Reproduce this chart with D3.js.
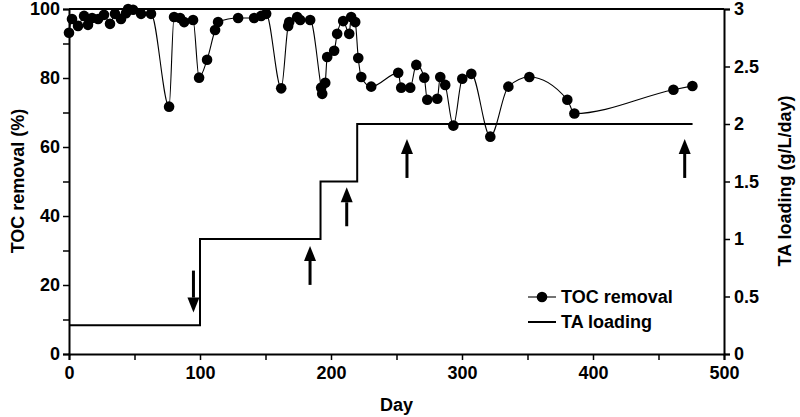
<!DOCTYPE html>
<html><head><meta charset="utf-8">
<script src="https://cdn.jsdelivr.net/npm/d3@7"></script>
<style>body{margin:0;background:#fff}svg{display:block}text{font-family:"Liberation Sans",Arial,sans-serif;font-weight:bold;fill:#000}</style>
</head><body><svg id="c" width="800" height="417"></svg>
<script>
const tocDays = [0,2.3,6.9,11.5,14.5,17.6,22.2,26.7,31.3,35.1,39.7,43.5,45.1,48.9,55,62.6,76.4,80.2,84.8,87.9,94.7,99.3,105.4,111.5,113.8,129.1,141.3,146.7,150.5,162,167.3,168.1,174.2,176.5,184.1,192.5,193.3,195.6,197.1,202.4,204.7,209.3,213.9,215.4,218.5,220.8,223.1,230.7,251.3,253.6,260.5,265.1,271.2,273.5,281.1,283.4,287.2,293.4,300.2,307.1,321.6,335.4,351.4,380.4,385.8,461.4,475.9];
const tocVals = [93.1,97.1,95.1,98.0,95.4,97.4,97.1,98.3,95.7,98.6,97.1,98.8,100,99.8,98.6,98.6,71.7,97.7,97.4,96.2,96.8,80.1,85.3,93.9,96.2,97.4,97.4,98.0,98.6,77.0,95.1,96.2,97.7,96.8,96.8,77.2,75.4,78.6,86.1,87.9,92.8,96.5,92.8,97.7,96.2,85.8,80.3,77.5,81.5,77.2,77.2,83.8,80.1,73.7,74.0,80.3,78.0,66.2,79.8,81.2,63.0,77.5,80.3,73.7,69.7,76.6,77.7];
const taDays = [0,100,192,220,476];
const taVals = [0.25,1,1.5,2,2];
const upArrowDays = [184,212,258,470];
const upArrowTips = [0.94,1.45,1.87,1.87];
const downArrowDays = [95];
const downArrowTips = [0.36];
const xTicks = [0,100,200,300,400,500];
const yLeftTicks = [0,20,40,60,80,100];
const yRightTicks = [0,0.5,1,1.5,2,2.5,3];

const svg = d3.select("#c");
const L=69,R=724,T=9,B=354;
const x = d3.scaleLinear().domain([0,500]).range([L,R]);
const yl = d3.scaleLinear().domain([0,100]).range([B,T]);
const yr = d3.scaleLinear().domain([0,3]).range([B,T]);

svg.append("line").attr("x1",L).attr("x2",R).attr("y1",T).attr("y2",T).attr("stroke","#000").attr("stroke-width",2);

const fs = "18px";
const gx = svg.append("g").attr("transform",`translate(0,${B})`)
  .call(d3.axisBottom(x).tickValues(d3.range(0,501,50)).tickSize(6).tickFormat(d=>xTicks.includes(d)?d:""));
const gyl = svg.append("g").attr("transform",`translate(${L},0)`)
  .call(d3.axisLeft(yl).tickValues(d3.range(0,101,10)).tickSize(6).tickFormat(d=>yLeftTicks.includes(d)?d:""));
const gyr = svg.append("g").attr("transform",`translate(${R},0)`)
  .call(d3.axisRight(yr).tickValues(yRightTicks).tickSize(6).tickFormat(d=>d));
[gx,gyl,gyr].forEach(g=>{
  g.select(".domain").attr("stroke","#000").attr("stroke-width",2);
  g.selectAll(".tick line").attr("stroke","#000").attr("stroke-width",1.5);
  g.selectAll(".tick text").style("font-size",fs).style("font-family",'"Liberation Sans",Arial,sans-serif').style("font-weight","bold").attr("fill","#000");
});
gx.selectAll(".tick text").attr("dy","0.9em").attr("y",9);
gyl.selectAll(".tick text").attr("x",-9);
gyr.selectAll(".tick text").attr("x",10);

const taLine = d3.line().x(d=>x(d[0])).y(d=>yr(d[1])).curve(d3.curveStepAfter);
svg.append("path").datum(taDays.map((d,i)=>[d,taVals[i]]))
  .attr("d",taLine).attr("fill","none").attr("stroke","#000").attr("stroke-width",2);

const pts = tocDays.map((d,i)=>[d,tocVals[i]]);
svg.append("path").datum(pts).attr("d",d3.line().x(d=>x(d[0])).y(d=>yl(d[1])).curve(d3.curveMonotoneX))
  .attr("fill","none").attr("stroke","#000").attr("stroke-width",1.1);
svg.append("g").selectAll("circle").data(pts).join("circle")
  .attr("cx",d=>x(d[0])).attr("cy",d=>yl(d[1])).attr("r",5.3).attr("fill","#000");

function arrow(day, y1, y2){
  const px = x(day); const dir = y2>y1?1:-1; const hl=15, hw=6;
  svg.append("line").attr("x1",px).attr("x2",px).attr("y1",y1).attr("y2",y2-dir*hl).attr("stroke","#000").attr("stroke-width",3);
  svg.append("path").attr("d",`M${px-hw},${y2-dir*hl}L${px+hw},${y2-dir*hl}L${px},${y2}Z`).attr("fill","#000");
}
upArrowDays.forEach((d,i)=>{ const tip=yr(upArrowTips[i]); arrow(d, tip+39, tip); });
downArrowDays.forEach((d,i)=>{ const tip=yr(downArrowTips[i]); arrow(d, tip-42, tip); });

const lg = svg.append("g");
lg.append("line").attr("x1",528).attr("x2",556).attr("y1",297).attr("y2",297).attr("stroke","#000").attr("stroke-width",1.1);
lg.append("circle").attr("cx",542).attr("cy",297).attr("r",5.3).attr("fill","#000");
lg.append("text").attr("x",561).attr("y",297).attr("dy","0.35em").style("font-size",fs).text("TOC removal");
lg.append("line").attr("x1",528).attr("x2",556).attr("y1",322).attr("y2",322).attr("stroke","#000").attr("stroke-width",2);
lg.append("text").attr("x",561).attr("y",322).attr("dy","0.35em").style("font-size",fs).text("TA loading");

svg.append("text").attr("transform","translate(18,181) rotate(-90)").attr("text-anchor","middle").attr("dy","0.35em").style("font-size",fs).text("TOC removal (%)");
svg.append("text").attr("transform","translate(785,181) rotate(-90)").attr("text-anchor","middle").attr("dy","0.35em").style("font-size",fs).text("TA loading (g/L/day)");
svg.append("text").attr("x",(L+R)/2).attr("y",405).attr("text-anchor","middle").attr("dy","0.35em").style("font-size",fs).text("Day");
</script></body></html>
